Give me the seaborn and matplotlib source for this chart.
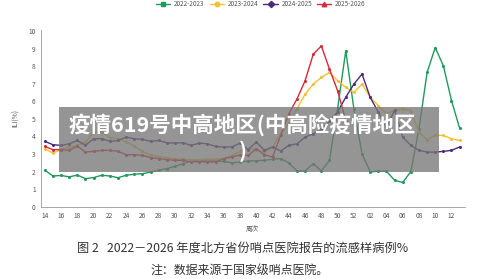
import numpy as np
import pandas as pd
import matplotlib
matplotlib.use("Agg")
import matplotlib.pyplot as plt
from matplotlib.lines import Line2D
from matplotlib.patches import Rectangle
import seaborn as sns

weeks = [str(w) for w in range(14, 53)] + [f"{w:02d}" for w in range(1, 14)]
tick_labels = [w for k, w in enumerate(weeks) if k % 2 == 0]

seasons = ["2022-2023", "2023-2024", "2024-2025", "2025-2026"]

s2022 = [2.08, 1.75, 1.78, 1.70, 1.80, 1.60, 1.66, 1.79, 1.75, 1.65, 1.79, 1.85, 1.88,
         1.97, 2.08, 2.17, 2.30, 2.45, 2.60, 2.62, 2.60, 2.60, 2.58, 2.50, 2.55, 2.60,
         2.62, 2.64, 2.70, 2.74, 2.49, 2.04, 2.04, 2.45, 2.04, 2.64, 5.60, 8.87, 5.57,
         3.02, 1.98, 2.02, 2.02, 1.51, 1.38, 2.00, 4.43, 7.64, 9.06, 8.02, 6.04, 4.47]
s2023 = [3.30, 3.05, 3.25, 3.40, 3.49, 3.68, 4.25, 4.25, 3.94, 3.87, 3.70, 3.45, 3.15,
         2.95, 2.85, 2.78, 2.72, 2.70, 2.68, 2.68, 2.70, 2.70, 2.74, 2.92, 3.15, 3.30,
         3.25, 3.11, 3.40, 4.15, 4.72, 5.57, 6.40, 6.98, 7.36, 7.64, 7.17, 6.79, 6.51,
         6.98, 6.23, 5.76, 5.30, 5.47, 5.57, 5.47, 4.25, 3.81, 4.06, 4.06, 3.87, 3.77]
s2024 = [3.72, 3.53, 3.49, 3.58, 3.77, 3.49, 3.87, 3.87, 3.72, 3.77, 3.96, 3.87, 3.83,
         3.72, 3.77, 3.64, 3.62, 3.64, 3.49, 3.62, 3.58, 3.43, 3.40, 3.40, 3.62, 3.25,
         3.68, 3.21, 3.40, 3.17, 3.49, 3.58, 3.96, 4.15, 4.43, 4.90, 5.40, 6.23, 6.98,
         7.55, 6.23, 5.38, 4.53, 5.50, 3.96, 3.49, 3.21, 3.11, 3.11, 3.15, 3.21, 3.40]
s2025 = [3.43, 3.25, 3.25, 3.21, 3.45, 3.11, 3.15, 3.21, 3.21, 3.15, 2.96, 2.96, 2.92,
         2.80, 2.74, 2.68, 2.64, 2.64, 2.55, 2.57, 2.55, 2.55, 2.74, 2.83, 2.95, 2.92,
         3.30, 2.95, 2.83, 4.06, 5.29, 6.13, 7.17, 8.68, 9.15, 7.83, 6.60, 4.90] + [np.nan] * 14

colors = {"2022-2023": "#1f9a5b", "2023-2024": "#f3c232",
          "2024-2025": "#4b2a7b", "2025-2026": "#d8283a"}
legend_markers = {"2022-2023": "s", "2023-2024": "o", "2024-2025": "D", "2025-2026": "^"}

rows = []
for name, vals in zip(seasons, [s2022, s2023, s2024, s2025]):
    for k, v in enumerate(vals):
        rows.append({"idx": k, "week": weeks[k], "value": v, "season": name})
df = pd.DataFrame(rows).dropna()

sns.set_style("white")
plt.rcParams["font.family"] = ["Noto Sans CJK SC", "DejaVu Sans"]

fig = plt.figure(figsize=(5.0, 2.79), dpi=100)
ax = fig.add_axes([0.081, 0.259, 0.849, 0.633])

sns.lineplot(data=df, x="idx", y="value", hue="season", palette=colors,
             marker="o", markersize=2.2, markeredgewidth=0, linewidth=1.0,
             legend=False, ax=ax, sort=True)

ax.set_xlim(-0.53, 51.66)
ax.set_ylim(0, 10.05)
ax.set_xticks(range(0, 52, 2))
ax.set_xticklabels(tick_labels)
ax.set_yticks(range(0, 11))
ax.tick_params(axis="both", labelsize=4.8, colors="#555555", length=2, width=0.5, pad=1.5)
ax.set_xlabel("周次", fontsize=4.8, color="#555555", labelpad=4)
ax.set_ylabel("ILI(%)", fontsize=4.8, color="#555555", labelpad=6)
for side in ["top", "right"]:
    ax.spines[side].set_visible(False)
for side in ["left", "bottom"]:
    ax.spines[side].set_color("#999999")
    ax.spines[side].set_linewidth(0.6)

handles = [Line2D([0], [0], color=colors[s], marker=legend_markers[s], markersize=3.2,
                  linewidth=1.0) for s in seasons]
fig.legend(handles, seasons, loc="center", bbox_to_anchor=(0.522, 0.984), ncol=4,
           frameon=False, fontsize=4.6, handlelength=2.2, columnspacing=0.8,
           handletextpad=0.6, labelcolor="#555555")

fig.text(0.486, 0.111, "图 2   2022－2026 年度北方省份哨点医院报告的流感样病例%",
         ha="center", va="center", fontsize=8.8, color="#333333")
fig.text(0.48, 0.029, "注：数据来源于国家级哨点医院。",
         ha="center", va="center", fontsize=8.6, color="#333333")

fig.patches.append(Rectangle((0.118, 0.3846), 0.76, 0.233, transform=fig.transFigure,
                             facecolor="#777777", alpha=0.78, edgecolor="none", zorder=5))
fig.text(0.485, 0.507, "疫情619号中高地区(中高险疫情地区\n)", ha="center", va="center",
         multialignment="center", fontsize=15.5, fontweight="bold", color="white",
         linespacing=1.25, zorder=6)

fig.savefig("out.png", dpi=100)
